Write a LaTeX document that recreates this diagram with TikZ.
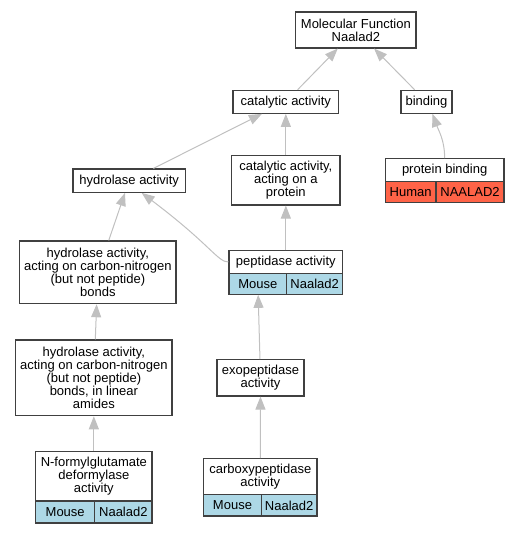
\documentclass[tikz,border=0pt]{standalone}
\usepackage{fontspec}
\setmainfont{Liberation Sans}
\usetikzlibrary{
		arrows.meta
	}
\definecolor{edgegray}{HTML}{C0C0C0}
\definecolor{boxgray}{HTML}{404040}
\definecolor{mousefill}{HTML}{ADD8E6}
\definecolor{humanfill}{HTML}{FF6347}
\tikzset{
		>={Triangle[length=13pt,width=10pt]},
		term/.style={draw=boxgray, fill=white, line width=1.1pt, align=center,
			inner sep=0pt, font=\fontsize{13}{13.2}\selectfont},
		mouse/.style={term, fill=mousefill},
		human/.style={term, fill=humanfill},
		isa/.style={->, draw=edgegray, line width=1pt}
	}

\begin{document}
\begin{tikzpicture}[x=1pt, y=1pt]
    \useasboundingbox (0,0) rectangle (519,-533);

    % the terms
    \node[term, minimum width=120.3pt, minimum height=36pt] (mf) at (355.85,-30) {Molecular Function\\Naalad2};
    \node[term, minimum width=105.7pt, minimum height=23pt] (cat) at (285.85,-101.8) {catalytic activity};
    \node[term, minimum width=51pt, minimum height=23pt] (bind) at (426.5,-101.8) {binding};
    \node[term, minimum width=112.3pt, minimum height=23.3pt] (hyd) at (129.15,-180.65) {hydrolase activity};
    \node[term, minimum width=108.3pt, minimum height=49.3pt] (catprot) at (285.85,-180.35) {catalytic activity,\\acting on a\\protein};
    \node[term, minimum width=156.3pt, minimum height=62.7pt] (hydcn) at (97.85,-272.35) {hydrolase activity,\\acting on carbon-nitrogen\\(but not peptide)\\bonds};
    \node[term, minimum width=156.3pt, minimum height=75.7pt] (hydlin) at (93.85,-377.85) {hydrolase activity,\\acting on carbon-nitrogen\\(but not peptide)\\bonds, in linear\\amides};
    \node[term, minimum width=87pt, minimum height=36.3pt] (exo) at (260.5,-377.85) {exopeptidase\\activity};

    % the annotated terms, with species and gene below
    \node[term, minimum width=118.7pt, minimum height=23pt] (protbind) at (444.65,-170.2) {protein binding};
    \node[human, minimum width=50.7pt, minimum height=20.6pt] (protbindsp) at (410.65,-192) {Human};
    \node[human, minimum width=68pt, minimum height=20.6pt] (protbindgene) at (470,-192) {NAALAD2};

    \node[term, minimum width=113.7pt, minimum height=22.6pt] (pep) at (285.85,-262) {peptidase activity};
    \node[mouse, minimum width=57.7pt, minimum height=21pt] (pepsp) at (257.85,-283.8) {Mouse};
    \node[mouse, minimum width=56pt, minimum height=21pt] (pepgene) at (314.7,-283.8) {Naalad2};

    \node[term, minimum width=116.3pt, minimum height=49.3pt] (nfd) at (93.85,-476.35) {N-formylglutamate\\deformylase\\activity};
    \node[mouse, minimum width=59pt, minimum height=22pt] (nfdsp) at (65.2,-512) {Mouse};
    \node[mouse, minimum width=57.3pt, minimum height=22pt] (nfdgene) at (123.35,-512) {Naalad2};

    \node[term, minimum width=113.3pt, minimum height=36pt] (carb) at (260.35,-476.7) {carboxypeptidase\\activity};
    \node[mouse, minimum width=57.6pt, minimum height=21.3pt] (carbsp) at (232.5,-505.35) {Mouse};
    \node[mouse, minimum width=55.7pt, minimum height=21.3pt] (carbgene) at (289.15,-505.35) {Naalad2};

    % draw the arrows
    \draw[isa] (cat) -- (mf);
    \draw[isa] (bind) -- (mf);
    \draw[isa] (hyd) -- (cat);
    \draw[isa] (catprot) -- (cat);
    \draw[isa] (protbind.north) to[out=90, in=-70] ([xshift=6pt]bind.south);
    \draw[isa] (hydcn) -- (hyd);
    \draw[isa] (pep.west) to[out=180, in=-37, out looseness=0.25, in looseness=2] ([xshift=12.5pt]hyd.south);
    \draw[isa] (pep) -- (catprot);
    \draw[isa] (hydlin) -- (hydcn);
    \draw[isa] (exo) -- (pepsp);
    \draw[isa] (nfd) -- (hydlin);
    \draw[isa] (carb) -- (exo);

\end{tikzpicture}
\end{document}
